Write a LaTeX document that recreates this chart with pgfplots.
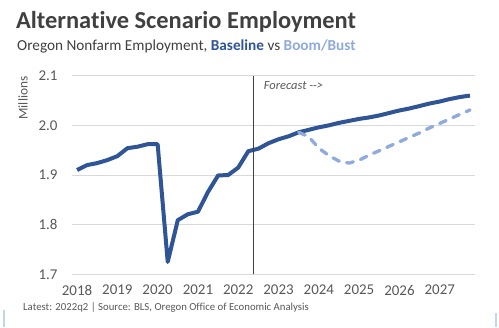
\documentclass[border=0pt]{standalone}
\usepackage{pgfplots}
\pgfplotsset{compat=1.18}
\usepackage{fontspec}
\setmainfont{Carlito}[Ligatures={NoCommon}]
\definecolor{base}{HTML}{2F5597}
\definecolor{boom}{HTML}{8FAADC}
\definecolor{txt}{HTML}{404040}
\definecolor{tick}{HTML}{595959}
\definecolor{gridc}{HTML}{D9D9D9}
\definecolor{edge}{HTML}{BDD7EE}
\begin{document}
\begin{tikzpicture}[x=1bp,y=1bp]
\path[use as bounding box, fill=white] (0,0) rectangle (499,327);
\begin{axis}[
  at={(72bp,52.7bp)}, anchor=south west,
  scale only axis, width=403bp, height=198.6bp,
  xmin=-0.5, xmax=39.5, ymin=1.7, ymax=2.1,
  axis line style={draw=none},
  major tick length=0pt,
  xtick={0,4,...,36},
  xticklabels={2018,2019,2020,2021,2022,2023,2024,2025,2026,2027},
  ytick={1.7,1.8,1.9,2.0,2.1},
  yticklabel style={/pgf/number format/fixed,/pgf/number format/precision=1,/pgf/number format/fixed zerofill},
  /pgf/number format/assume math mode=true,
  ymajorgrids, grid style={gridc, line width=0.8bp},
  tick label style={font=\fontsize{15}{17}\selectfont, text=tick},
  yticklabel style={xshift=-11bp},
  xticklabel style={yshift=-9.5bp, inner sep=1bp},
  clip=false,
]
\addplot[base, line width=4bp, line join=round] coordinates {
(0,1.910)(1,1.920)(2,1.924)(3,1.930)(4,1.938)(5,1.954)(6,1.957)(7,1.962)(8,1.962)(9,1.725)
(10,1.809)(11,1.821)(12,1.826)(13,1.866)(14,1.899)(15,1.900)(16,1.915)(17,1.948)(18,1.953)(19,1.964)
(20,1.972)(21,1.978)(22,1.986)(23,1.991)(24,1.996)(25,2.000)(26,2.005)(27,2.009)(28,2.013)(29,2.016)
(30,2.020)(31,2.025)(32,2.030)(33,2.034)(34,2.039)(35,2.044)(36,2.048)(37,2.053)(38,2.057)(39,2.060)
};
\addplot[boom, line width=3.3bp, line cap=round, line join=round, dash pattern=on 7bp off 7.5bp] coordinates {
(22,1.986)(23,1.977)(24,1.954)(25,1.939)(26,1.928)(27,1.924)(28,1.930)(29,1.940)(30,1.949)(31,1.958)
(32,1.967)(33,1.976)(34,1.985)(35,1.995)(36,2.004)(37,2.013)(38,2.022)(39,2.031)
};
\draw[txt, line width=1.3bp] (axis cs:17.5,1.7) -- (axis cs:17.5,2.1);
\node[anchor=west, text=tick, font=\fontsize{12.5}{14}\selectfont\itshape] at (axis cs:18.2,2.081) {Forecast -{}->};
\end{axis}
\node[anchor=base west, text=txt, font=\fontsize{24.5}{27}\selectfont\bfseries, inner sep=0] at (16,299) {Alternative Scenario Employment};
\node[anchor=base west, text=txt, font=\fontsize{15.3}{17}\selectfont, inner sep=0] at (17,277) {Oregon Nonfarm Employment, \textcolor{base}{\textbf{Baseline}} vs \textcolor{boom}{\textbf{Boom/Bust}}};
\node[rotate=90, text=tick, font=\fontsize{13.4}{15}\selectfont] at (23,229) {Millions};
\node[anchor=base west, text=tick, font=\fontsize{10.8}{12}\selectfont, inner sep=0] at (23,16.5) {Latest: 2022q2 | Source: BLS, Oregon Office of Economic Analysis};
\fill[edge] (3,0) rectangle (5,17);
\fill[edge] (495,0) rectangle (497,14);
\end{tikzpicture}
\end{document}
